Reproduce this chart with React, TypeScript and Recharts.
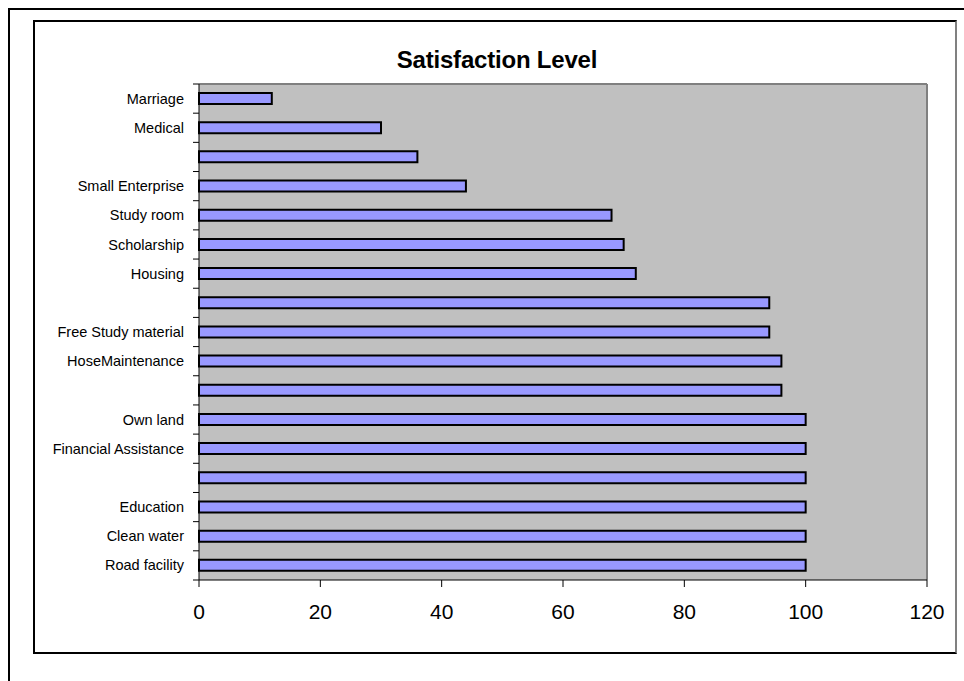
import { BarChart, Bar, XAxis, YAxis, CartesianGrid } from 'recharts';

// top to bottom, as drawn; empty label = category Excel skipped
const labels = [
  'Marriage',
  'Medical',
  '',
  'Small Enterprise',
  'Study room',
  'Scholarship',
  'Housing',
  '',
  'Free Study material',
  'HoseMaintenance',
  '',
  'Own land',
  'Financial Assistance',
  '',
  'Education',
  'Clean water',
  'Road facility',
];

const values = [12, 30, 36, 44, 68, 70, 72, 94, 94, 96, 96, 100, 100, 100, 100, 100, 100];

const xTicks = [0, 20, 40, 60, 80, 100, 120];

const data = labels.map((label, i) => ({ id: `cat${i}`, label, value: values[i] }));

const FONT = '"Liberation Sans", Arial, sans-serif';

function CategoryTick(props: any) {
  const { x, y, payload, index } = props;
  const half = payload?.offset ?? 0;
  const axisX = x + 15;
  const isLast = index === labels.length - 1;
  return (
    <g>
      <line x1={axisX - 6} x2={axisX} y1={y - half} y2={y - half} stroke="#000" />
      {isLast && <line x1={axisX - 6} x2={axisX} y1={y + half} y2={y + half} stroke="#000" />}
      <text x={x} y={y} dy="0.35em" textAnchor="end" fontSize={14.5} fill="#000" fontFamily={FONT}>
        {labels[index]}
      </text>
    </g>
  );
}

export default function App() {
  return (
    <div>
      {/* outer frame */}
      <div
        style={{
          position: 'fixed',
          left: 8,
          top: 8,
          right: 0,
          bottom: 0,
          borderTop: '2px solid #000',
          borderLeft: '2px solid #000',
        }}
      />
      {/* chart frame */}
      <div
        style={{
          position: 'fixed',
          left: 33,
          top: 20,
          width: 924,
          height: 634,
          boxSizing: 'border-box',
          borderTop: '2px solid #000',
          borderLeft: '2px solid #000',
          borderBottom: '2px solid #000',
          borderRight: '2px solid #808080',
          background: '#fff',
        }}
      >
        <BarChart
          width={920}
          height={630}
          data={data}
          layout="vertical"
          margin={{ top: 62, right: 28, bottom: 32, left: 4 }}
        >
          {/* grey plot area; its top and right edges drawn as grid lines */}
          <CartesianGrid
            fill="#C0C0C0"
            stroke="#808080"
            strokeWidth={2}
            horizontalCoordinatesGenerator={({ offset }: any) => [offset.top]}
            verticalCoordinatesGenerator={({ offset }: any) => [offset.left + offset.width]}
          />
          <XAxis
            type="number"
            domain={[0, 120]}
            ticks={xTicks}
            height={40}
            tickSize={7}
            tickMargin={17}
            stroke="#000"
            tick={{ fill: '#000', fontSize: 21, fontFamily: FONT }}
          />
          <YAxis
            type="category"
            dataKey="id"
            width={160}
            tickSize={6}
            tickMargin={9}
            tickLine={false}
            interval={0}
            stroke="#000"
            tick={<CategoryTick />}
          />
          <Bar
            dataKey="value"
            barSize={11}
            fill="#9999FF"
            stroke="#000"
            strokeWidth={2}
            isAnimationActive={false}
          />
        </BarChart>
      </div>
      <div
        style={{
          position: 'fixed',
          left: 297,
          top: 48,
          width: 400,
          textAlign: 'center',
          fontFamily: FONT,
          fontWeight: 'bold',
          fontSize: 24,
          lineHeight: '23px',
          letterSpacing: '-0.2px',
          color: '#000',
        }}
      >
        Satisfaction Level
      </div>
    </div>
  );
}
